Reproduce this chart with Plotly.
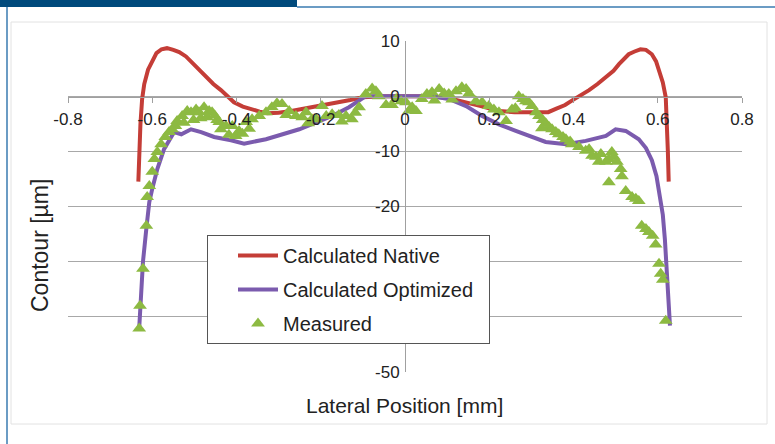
import plotly.graph_objects as go

# ---------------- data ----------------
native_x = [-0.633, -0.631, -0.628, -0.624, -0.619, -0.610, -0.600, -0.590, -0.578, -0.565,
            -0.550, -0.536, -0.520, -0.508, -0.490, -0.477, -0.455, -0.437, -0.420, -0.406,
            -0.385, -0.365, -0.345, -0.327, -0.300, -0.270, -0.240, -0.200, -0.160, -0.130,
            -0.100, -0.050, 0.000, 0.050, 0.100, 0.145, 0.180, 0.223, 0.260, 0.301,
            0.340, 0.358, 0.380, 0.396, 0.415, 0.437, 0.457, 0.477, 0.495, 0.508,
            0.520, 0.531, 0.545, 0.559, 0.572, 0.586, 0.596, 0.603, 0.612, 0.619,
            0.622, 0.624, 0.626]
native_y = [-15.5, -10.0, -5.0, -0.5, 2.2, 4.8, 6.5, 7.8, 8.5, 8.7,
            8.4, 8.0, 7.2, 6.3, 5.0, 3.8, 2.2, 1.1, 0.0, -1.1,
            -1.9, -2.4, -2.8, -3.1, -3.0, -2.7, -2.3, -1.8, -1.1, -0.7,
            -0.2, 0.0, 0.0, 0.0, -0.3, -1.1, -1.8, -2.7, -2.9, -2.9,
            -2.9, -2.3, -1.6, -0.8, 0.0, 1.1, 2.2, 3.4, 4.6, 5.8,
            6.8, 7.6, 8.1, 8.5, 8.4, 7.6, 6.3, 4.7, 2.5, -0.2,
            -4.3, -10.0, -15.5]

optimized_x = [-0.631, -0.626, -0.622, -0.614, -0.607, -0.600, -0.588, -0.572, -0.548, -0.531,
               -0.508, -0.484, -0.453, -0.413, -0.382, -0.330, -0.251, -0.173, -0.133, -0.093,
               -0.050, 0.000, 0.064, 0.104, 0.145, 0.183, 0.223, 0.263, 0.318, 0.334,
               0.382, 0.429, 0.477, 0.500, 0.524, 0.555, 0.572, 0.586, 0.597, 0.605,
               0.612, 0.617, 0.622, 0.626, 0.629]
optimized_y = [-42.1, -36.2, -30.0, -24.0, -19.2, -16.8, -13.2, -9.6, -6.5, -6.9,
               -6.0, -6.5, -7.4, -8.0, -8.6, -7.8, -6.0, -3.6, -2.0, 0.0,
               0.0, 0.0, 0.0, -0.5, -1.8, -3.6, -5.1, -6.3, -7.8, -8.3,
               -8.7, -8.1, -7.2, -6.0, -6.3, -7.8, -9.4, -11.6, -14.5, -17.8,
               -21.5, -26.0, -32.0, -37.0, -41.6]

measured_x = [-0.631, -0.629, -0.622, -0.614, -0.612, -0.607, -0.600, -0.595, -0.588, -0.579,
              -0.569, -0.560, -0.553, -0.541, -0.529, -0.517, -0.508, -0.496, -0.489, -0.477,
              -0.465, -0.458, -0.446, -0.441, -0.437, -0.425, -0.410, -0.394, -0.377, -0.363,
              -0.346, -0.330, -0.316, -0.304, -0.292, -0.275, -0.259, -0.244, -0.235, -0.221,
              -0.211, -0.197, -0.187, -0.173, -0.157, -0.140, -0.126, -0.109, -0.093, -0.078,
              -0.069, -0.062, -0.045, -0.031, -0.021, -0.009, 0.002, 0.017, 0.026, 0.040,
              0.052, 0.064, 0.081, 0.093, 0.104, 0.121, 0.135, 0.145, 0.152, 0.168,
              0.183, 0.199, 0.211, 0.223, 0.240, 0.254, 0.270, 0.280, 0.287, 0.294,
              0.301, 0.311, 0.318, 0.327, 0.334, 0.342, 0.349, 0.358, 0.365, 0.375,
              0.382, 0.396, 0.413, 0.429, 0.437, 0.444, 0.453, 0.460, 0.465, 0.477,
              0.484, 0.491, 0.496, 0.503, 0.512, 0.484, 0.515, 0.524, 0.539, 0.548,
              0.555, 0.562, 0.572, 0.579, 0.588, 0.595, 0.603, 0.607, 0.612, 0.619,
              -0.545, -0.525, -0.502, -0.485, -0.470, -0.452, -0.418, -0.402, -0.386, -0.370,
              -0.282, -0.230, -0.150, -0.118, 0.010, 0.070, 0.112, 0.262, 0.325, 0.392]
measured_y = [-42.1, -38.0, -31.3, -23.5, -18.3, -16.3, -13.7, -11.4, -10.1, -8.7,
              -7.4, -6.5, -6.0, -4.5, -3.6, -2.7, -2.9, -2.4, -2.9, -2.0,
              -2.7, -2.9, -4.3, -4.7, -6.0, -5.4, -5.4, -6.3, -4.7, -4.2,
              -3.6, -2.9, -2.0, -1.3, -1.4, -2.7, -3.6, -3.8, -2.9, -4.2,
              -4.2, -1.8, -3.6, -3.3, -3.4, -3.6, -4.2, -2.0, 0.4, 1.4,
              0.9, 0.0, -1.6, -1.6, -0.5, -0.9, -1.1, -2.0, -2.7, -0.5,
              0.4, 0.7, 1.3, 0.5, 0.4, 0.9, 1.6, 1.3, 0.5, -0.9,
              -1.1, -1.8, -2.4, -2.9, -4.5, -2.4, 0.0, -0.5, -0.9, -1.1,
              -1.8, -2.9, -3.6, -4.3, -4.9, -5.6, -6.0, -6.5, -6.9, -7.4,
              -7.8, -8.7, -9.2, -9.9, -9.6, -10.8, -11.0, -11.9, -10.5, -11.9,
              -11.4, -10.1, -11.0, -11.9, -13.2, -15.6, -14.5, -17.2, -18.3, -18.6,
              -19.0, -23.5, -24.1, -24.6, -25.3, -26.9, -30.4, -32.2, -33.3, -40.7,
              -5.4, -4.8, -4.3, -4.0, -3.8, -3.5, -7.0, -7.2, -6.8, -5.9,
              -3.4, -4.9, -4.6, -3.0, -2.6, -0.8, -0.6, -2.2, -5.8, -8.2]

x_ticks = [-0.8, -0.6, -0.4, -0.2, 0, 0.2, 0.4, 0.6, 0.8]
x_tick_labels = ["-0.8", "-0.6", "-0.4", "-0.2", "0", "0.2", "0.4", "0.6", "0.8"]
y_ticks = [10, 0, -10, -20, -30, -40, -50]
# -30 and -40 sit behind the legend box in the original and are not visible
y_tick_labels = ["10", "0", "-10", "-20", "", "", "-50"]

# ---------------- layout geometry ----------------
W, H = 775, 444
L, R, T, B = 68, 33, 41, 72
PW, PH = W - L - R, H - T - B


def px(xp):
    return (xp - L) / PW


def py(yp):
    return (H - B - yp) / PH


FONT = "Liberation Sans, Arial, Helvetica, sans-serif"
RED = "#C43D37"
PURPLE = "#7B5BAE"
GREEN = "#8DBA42"

fig = go.Figure()
fig.add_trace(go.Scatter(x=native_x, y=native_y, mode="lines", name="Calculated Native",
                         line=dict(color=RED, width=4), legendgroup="a"))
fig.add_trace(go.Scatter(x=optimized_x, y=optimized_y, mode="lines",
                         name="Calculated Optimized\u2002",
                         line=dict(color=PURPLE, width=4), legendgroup="b"))
fig.add_trace(go.Scatter(x=measured_x, y=measured_y, mode="markers", name="Measured",
                         marker=dict(symbol="triangle-up", size=12, color=GREEN), legendgroup="c"))

shapes = [
    dict(type="rect", xref="paper", yref="paper", x0=px(0), x1=px(297), y0=py(0), y1=py(7),
         fillcolor="#004A7C", line=dict(width=0), layer="below"),
    dict(type="line", xref="paper", yref="paper", x0=px(297), x1=px(775), y0=py(7), y1=py(7),
         line=dict(color="#3A7BB0", width=1.5)),
    dict(type="line", xref="paper", yref="paper", x0=px(7), x1=px(7), y0=py(7), y1=py(444),
         line=dict(color="#3A7BB0", width=1.5)),
    dict(type="rect", xref="paper", yref="paper", x0=px(11), x1=px(767), y0=py(22), y1=py(424),
         line=dict(color="#E2E2E2", width=1), layer="below"),
]

fig.update_layout(
    width=W, height=H,
    margin=dict(l=L, r=R, t=T, b=B),
    paper_bgcolor="white", plot_bgcolor="white",
    font=dict(family=FONT, size=17, color="#222"),
    showlegend=True,
    legend=dict(x=px(207), y=py(235), xanchor="left", yanchor="top",
                bgcolor="white", bordercolor="#555", borderwidth=1,
                font=dict(size=20, family=FONT, color="#222"),
                tracegroupgap=5, traceorder="grouped", indentation=25, itemwidth=40),
    shapes=shapes,
    xaxis=dict(range=[-0.8, 0.8], tickvals=x_ticks, ticktext=x_tick_labels,
               anchor="free", position=py(97), side="bottom",
               showgrid=False, zeroline=False, showline=True, linecolor="#A0A0A0", linewidth=1,
               ticks="outside", ticklen=5, tickcolor="#A0A0A0", ticklabelstandoff=2,
               tickfont=dict(size=17, family=FONT, color="#222")),
    yaxis=dict(range=[-50, 10], tickvals=y_ticks, ticktext=y_tick_labels,
               anchor="free", position=0.5, side="left",
               showgrid=True, gridcolor="#A8A8A8", gridwidth=1,
               zeroline=False, showline=True, linecolor="#A0A0A0", linewidth=1,
               ticks="", ticklabelstandoff=2,
               tickfont=dict(size=17, family=FONT, color="#222")),
    annotations=[
        dict(text="Lateral Position [mm]", xref="paper", yref="paper",
             x=px(404), y=py(405), xanchor="center", yanchor="middle", showarrow=False,
             font=dict(size=21, family=FONT, color="#222")),
        dict(text="Contour [µm]", xref="paper", yref="paper", textangle=-90,
             x=px(40), y=py(246), xanchor="center", yanchor="middle", showarrow=False,
             font=dict(size=23, family=FONT, color="#222")),
    ],
)

fig.write_html("out.html")
